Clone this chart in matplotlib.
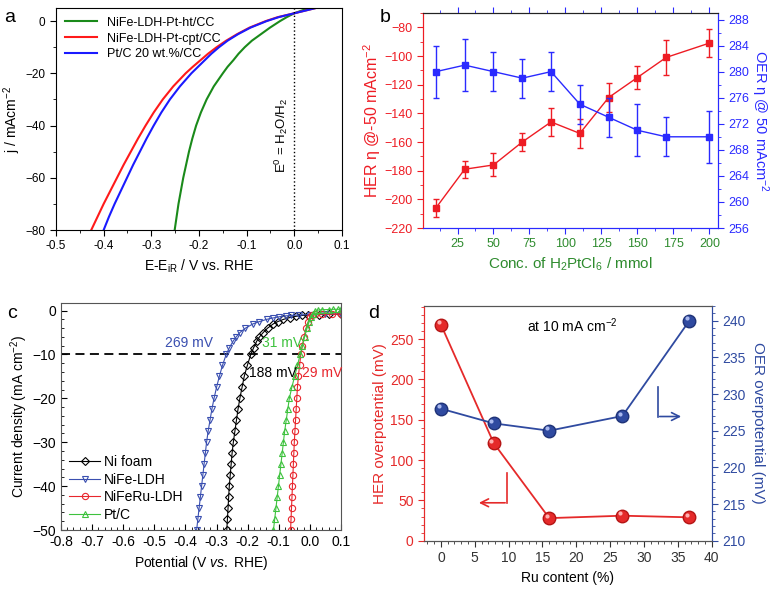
import matplotlib
matplotlib.use("Agg")
import matplotlib.pyplot as plt
from matplotlib.ticker import MultipleLocator
import matplotlib.transforms as mtransforms
import numpy as np

plt.rcParams['font.family'] = ['Liberation Sans', 'DejaVu Sans']
plt.rcParams['mathtext.fontset'] = 'custom'
plt.rcParams['mathtext.rm'] = 'Liberation Sans'
plt.rcParams['mathtext.it'] = 'Liberation Sans:italic'
plt.rcParams['font.size'] = 9

# ---- panel a: polarisation curves (j levels, potentials)
a_j = [-80, -75, -70, -65, -60, -55, -50, -45, -40, -35, -30, -25, -20, -17.5, -15, -12.5,
       -10, -7.5, -5, -2.5, 0, 1.5, 3, 5]
a_ht = [-0.251, -0.247, -0.243, -0.238, -0.233, -0.227, -0.221, -0.214, -0.206, -0.196, -0.184, -0.169,
        -0.150, -0.140, -0.128, -0.117, -0.104, -0.089, -0.070, -0.051, -0.030, -0.016, 0.0, 0.030]
a_cpt = [-0.426, -0.413, -0.400, -0.386, -0.372, -0.358, -0.343, -0.328, -0.312, -0.295, -0.276, -0.254,
         -0.228, -0.213, -0.197, -0.181, -0.163, -0.143, -0.120, -0.094, -0.060, -0.035, 0.0, 0.045]
a_ptc = [-0.400, -0.389, -0.377, -0.364, -0.351, -0.338, -0.324, -0.310, -0.295, -0.279, -0.261, -0.240,
         -0.216, -0.202, -0.188, -0.174, -0.158, -0.140, -0.118, -0.092, -0.058, -0.033, 0.0, 0.045]

# ---- panel b: overpotential vs H2PtCl6 concentration
b_conc = [10, 30, 50, 70, 90, 110, 130, 150, 170, 200]
b_her = [-206, -179, -176, -160, -146, -154, -129, -115, -101, -91]
b_her_err = [6, 6, 8, 6, 10, 10, 10, 8, 12, 10]
b_oer = [280, 281, 280, 279, 280, 275, 273, 271, 270, 270]
b_oer_err = [4, 4, 3, 3, 3, 3, 3, 4, 3, 4]

# ---- panel c: LSV curves
c_nif_j = [-50, -47.5, -45, -42.5, -40, -37.5, -35, -32.5, -30, -27.5, -25, -22.5, -20, -17.5, -15, -12.5,
           -10, -8.5, -7, -6, -5, -4, -3, -2.5, -2, -1.6, -1.3, -1.1, -1.0, -0.9, -0.85, -0.8]
c_nif_v = [-0.267, -0.265, -0.263, -0.261, -0.259, -0.256, -0.253, -0.250, -0.246, -0.241, -0.236, -0.231,
           -0.225, -0.218, -0.211, -0.201, -0.190, -0.181, -0.171, -0.162, -0.150, -0.136, -0.117, -0.103,
           -0.085, -0.065, -0.045, -0.025, -0.005, 0.03, 0.06, 0.1]
c_ldh_j = [-50, -47.5, -45, -42.5, -40, -37.5, -35, -32.5, -30, -27.5, -25, -22.5, -20, -17.5, -15, -12.5,
           -10, -8.5, -7, -6, -5, -4, -3, -2.5, -2, -1.7, -1.4, -1.2, -1.1, -1.0, -0.9, -0.85, -0.8]
c_ldh_v = [-0.364, -0.360, -0.356, -0.352, -0.348, -0.344, -0.340, -0.336, -0.332, -0.327, -0.321, -0.315,
           -0.308, -0.300, -0.291, -0.281, -0.269, -0.259, -0.247, -0.237, -0.225, -0.207, -0.182, -0.162,
           -0.139, -0.120, -0.098, -0.078, -0.060, -0.035, 0.0, 0.05, 0.1]
c_ru_j = [-50, -47.5, -45, -42.5, -40, -37.5, -35, -32.5, -30, -27.5, -25, -22.5, -20, -17.5, -15, -12.5,
          -10, -8, -6, -4, -2.5, -1.5, -1.0, -0.85, -0.8, -0.8, -0.8]
c_ru_v = [-0.062, -0.0605, -0.059, -0.0575, -0.056, -0.0545, -0.053, -0.0515, -0.050, -0.048, -0.046, -0.044,
          -0.042, -0.040, -0.037, -0.033, -0.029, -0.024, -0.019, -0.012, -0.005, 0.002, 0.008, 0.015,
          0.04, 0.07, 0.1]
c_pt_j = [-50, -47.5, -45, -42.5, -40, -37.5, -35, -32.5, -30, -27.5, -25, -22.5, -20, -17.5, -15, -12.5,
          -10, -8, -6, -4, -2.5, -1.5, -0.8, -0.2, 0.1, 0.2, 0.25, 0.3, 0.3, 0.3]
c_pt_v = [-0.117, -0.113, -0.109, -0.105, -0.101, -0.097, -0.093, -0.089, -0.085, -0.081, -0.076, -0.071,
          -0.066, -0.058, -0.049, -0.040, -0.031, -0.024, -0.017, -0.009, -0.002, 0.004, 0.009, 0.015,
          0.025, 0.04, 0.06, 0.075, 0.09, 0.1]

# ---- panel d: overpotential vs Ru content
d_ru = [0, 7.8, 16, 26.8, 36.7]
d_her = [268, 121, 28, 31, 29]
d_oer = [228, 226, 225, 227, 240]

RED = '#ee1c24'
BLUE = '#2a2aff'
GREEN = '#2e8b2e'

fig = plt.figure(figsize=(7.84, 5.91), dpi=100)

# ================= a
ax = fig.add_axes([0.0714, 0.6108, 0.3648, 0.3756])
ax.plot(a_ht, a_j, color='#1a8a1a', lw=1.5, label='NiFe-LDH-Pt-ht/CC')
ax.plot(a_cpt, a_j, color='#ff1a1a', lw=1.5, label='NiFe-LDH-Pt-cpt/CC')
ax.plot(a_ptc, a_j, color='#1a1aff', lw=1.5, label='Pt/C 20 wt.%/CC')
ax.axvline(0, color='k', ls=':', lw=1)
ax.text(-0.027, -43.6, r'E$^0$ = H$_2$O/H$_2$', rotation=90, ha='center', va='center', fontsize=9.5)
ax.set_xlim(-0.5, 0.1)
ax.set_ylim(-80, 5)
ax.xaxis.set_minor_locator(MultipleLocator(0.05))
ax.yaxis.set_major_locator(MultipleLocator(20))
ax.yaxis.set_minor_locator(MultipleLocator(10))
ax.set_xticks(np.arange(-0.5, 0.11, 0.1))
ax.set_xticklabels(['-0.5', '-0.4', '-0.3', '-0.2', '-0.1', '0.0', '0.1'])
ax.tick_params(which='both', direction='out', labelsize=8.5)
ax.tick_params(which='major', length=4)
ax.tick_params(which='minor', length=2)
ax.set_xlabel(r'E-E$_{\mathrm{iR}}$ / V vs. RHE', fontsize=10)
ax.set_ylabel(r'j / mAcm$^{-2}$', fontsize=10, labelpad=2)
ax.legend(loc='upper left', frameon=False, fontsize=9, handlelength=2.6,
          borderaxespad=0.3, labelspacing=0.3)
fig.text(0.005, 0.962, 'a', fontsize=14)

# ================= b
axb = fig.add_axes([0.5395, 0.6142, 0.3763, 0.3638])
axb2 = axb.twinx()
axb.errorbar(b_conc, b_her, yerr=b_her_err, color=RED, marker='s', ms=5, lw=1,
             capsize=2.5, elinewidth=1)
axb2.errorbar(b_conc, b_oer, yerr=b_oer_err, color=BLUE, marker='s', ms=5, lw=1,
              capsize=2.5, elinewidth=1)
axb.set_xlim(1, 206)
axb.set_ylim(-220, -70)
axb2.set_ylim(256, 289)
axb.xaxis.set_minor_locator(MultipleLocator(12.5))
axb.set_xticks([25, 50, 75, 100, 125, 150, 175, 200])
axb.yaxis.set_major_locator(MultipleLocator(20))
axb.yaxis.set_minor_locator(MultipleLocator(10))
axb2.yaxis.set_major_locator(MultipleLocator(4))
axb2.yaxis.set_minor_locator(MultipleLocator(2))
axb.tick_params(axis='x', which='both', colors=BLUE, labelcolor=GREEN, direction='out',
                labelsize=9, top=True)
axb.tick_params(axis='y', which='both', colors=RED, labelcolor=RED, direction='out', labelsize=9)
axb2.tick_params(axis='y', which='both', colors=BLUE, labelcolor=BLUE, direction='out', labelsize=9)
for a_ in (axb, axb2):
    a_.spines['left'].set_color(RED)
    a_.spines['right'].set_color(BLUE)
    a_.spines['bottom'].set_color(BLUE)
    a_.spines['top'].set_color('#222222')
    a_.tick_params(which='major', length=4)
    a_.tick_params(which='minor', length=2)
axb.set_xlabel(r'Conc. of H$_2$PtCl$_6$ / mmol', color=GREEN, fontsize=11)
axb.set_ylabel('HER η @-50 mAcm$^{-2}$', color=RED, fontsize=11.5, labelpad=1)
axb2.set_ylabel('OER η @ 50 mAcm$^{-2}$', color=BLUE, fontsize=10.5, rotation=270, labelpad=15)
fig.text(0.484, 0.962, 'b', fontsize=14)

# ================= c
axc = fig.add_axes([0.0778, 0.1032, 0.3571, 0.3846])
axc.axhline(-10, color='k', ls=(0, (5, 3)), lw=1.3, zorder=1)
mk = dict(ms=4.5, mfc='none', mew=0.8, lw=0.8)
axc.plot(c_nif_v, c_nif_j, color='k', marker='D', label='Ni foam', **dict(mk, ms=3.8))
axc.plot(c_ldh_v, c_ldh_j, color='#3a4fb0', marker='v', label='NiFe-LDH', **mk)
axc.plot(c_ru_v, c_ru_j, color='#e8262d', marker='o', label='NiFeRu-LDH', **mk)
axc.plot(c_pt_v, c_pt_j, color='#3ec23e', marker='^', label='Pt/C', **mk)
axc.text(-0.311, -7.4, '269 mV', color='#3a4fb0', ha='right', va='center', fontsize=10)
axc.text(-0.154, -7.4, '31 mV', color='#3ec23e', ha='left', va='center', fontsize=10)
axc.text(-0.196, -14.2, '188 mV', color='k', ha='left', va='center', fontsize=10)
axc.text(-0.025, -14.2, '29 mV', color='#e8262d', ha='left', va='center', fontsize=10)
axc.set_xlim(-0.8, 0.1)
axc.set_ylim(-50, 1.8)
axc.set_xticks(np.arange(-0.8, 0.11, 0.1))
axc.set_xticklabels(['-0.8', '-0.7', '-0.6', '-0.5', '-0.4', '-0.3', '-0.2', '-0.1', '0.0', '0.1'])
axc.xaxis.set_minor_locator(MultipleLocator(0.02))
axc.yaxis.set_major_locator(MultipleLocator(10))
axc.yaxis.set_minor_locator(MultipleLocator(2))
axc.tick_params(which='both', direction='in', labelsize=10)
axc.tick_params(which='major', length=4)
axc.tick_params(which='minor', length=2.5)
axc.set_xlabel(r'Potential (V $\mathit{vs.}$ RHE)', fontsize=10)
axc.set_ylabel(r'Current density (mA cm$^{-2}$)', fontsize=10, labelpad=2)
axc.legend(loc='lower left', frameon=False, fontsize=10, handlelength=2.2,
           borderaxespad=0.2, labelspacing=0.25, handletextpad=0.3)
for s in axc.spines.values():
    s.set_color('#555555')
fig.text(0.009, 0.462, 'c', fontsize=14)

# ================= d
DRED = '#e52a2a'
DBLUE = '#2f4aa0'
axd = fig.add_axes([0.5408, 0.0851, 0.3670, 0.3971])
axd2 = axd.twinx()
axd.plot(d_ru, d_her, color=DRED, lw=1.3, marker='o', ms=9, mfc=DRED, mec='#b51515', zorder=3)
axd2.plot(d_ru, d_oer, color=DBLUE, lw=1.3, marker='o', ms=9, mfc=DBLUE, mec='#1f3378', zorder=3)
off = mtransforms.ScaledTranslation(-1.6 / 72, 1.6 / 72, fig.dpi_scale_trans)
axd.plot(d_ru, d_her, ls='none', marker='o', ms=3, mfc='#ffb0b0', mec='none',
         transform=axd.transData + off, zorder=4)
axd2.plot(d_ru, d_oer, ls='none', marker='o', ms=3, mfc='#a9b8ee', mec='none',
          transform=axd2.transData + off, zorder=4)
# guide arrows
axd.plot([9.8, 9.8], [84, 47], color=DRED, lw=1.2)
axd.annotate('', xy=(5.2, 47), xytext=(9.9, 47),
             arrowprops=dict(arrowstyle='->', color=DRED, lw=1.2, mutation_scale=14))
axd.plot([32, 32], [191, 154], color=DBLUE, lw=1.2)
axd.annotate('', xy=(35.9, 154), xytext=(31.9, 154),
             arrowprops=dict(arrowstyle='->', color=DBLUE, lw=1.2, mutation_scale=14))
axd.text(19.4, 267, r'at 10 mA cm$^{-2}$', ha='center', va='center', fontsize=10)
axd.set_xlim(-2.5, 40)
axd.set_ylim(0, 291)
axd2.set_ylim(210, 242)
axd.xaxis.set_major_locator(MultipleLocator(5))
axd.xaxis.set_minor_locator(MultipleLocator(1))
axd.yaxis.set_major_locator(MultipleLocator(50))
axd.yaxis.set_minor_locator(MultipleLocator(10))
axd2.yaxis.set_major_locator(MultipleLocator(5))
axd2.yaxis.set_minor_locator(MultipleLocator(1))
axd.tick_params(axis='x', which='both', direction='out', colors='#333333', labelsize=10)
axd.tick_params(axis='y', which='both', direction='out', colors=DRED, labelcolor=DRED, labelsize=10)
axd2.tick_params(axis='y', which='both', direction='out', colors=DBLUE, labelcolor=DBLUE, labelsize=10)
for a_ in (axd, axd2):
    a_.tick_params(which='major', length=4)
    a_.tick_params(which='minor', length=2)
    a_.spines['left'].set_color(DRED)
    a_.spines['right'].set_color(DBLUE)
    a_.spines['bottom'].set_color('#555555')
    a_.spines['top'].set_color('#555555')
axd.set_xlabel('Ru content (%)', fontsize=10)
axd.set_ylabel('HER overpotential (mV)', color=DRED, fontsize=11, labelpad=2)
axd2.set_ylabel('OER overpotential (mV)', color=DBLUE, fontsize=11, rotation=270, labelpad=14)
fig.text(0.469, 0.462, 'd', fontsize=14)

fig.savefig('out.png', dpi=100)
